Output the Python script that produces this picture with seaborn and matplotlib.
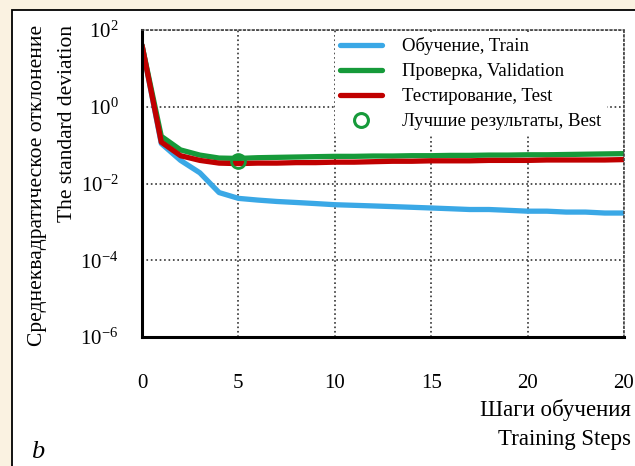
import pandas as pd
import seaborn as sns
import matplotlib.pyplot as plt
import matplotlib.patches as mpatches
from matplotlib.lines import Line2D

# data
steps = list(range(26))
train = [40, 0.11, 0.040, 0.019, 0.0058, 0.0041, 0.0037, 0.0034, 0.0032, 0.0030,
         0.0028, 0.0027, 0.0026, 0.0025, 0.0024, 0.0023, 0.0022, 0.0021, 0.0021, 0.0020,
         0.0019, 0.0019, 0.0018, 0.0018, 0.0017, 0.0017]
validation = [40, 0.17, 0.075, 0.055, 0.046, 0.045, 0.047, 0.048, 0.049, 0.050,
              0.051, 0.051, 0.052, 0.052, 0.053, 0.053, 0.054, 0.054, 0.055, 0.055,
              0.056, 0.056, 0.057, 0.058, 0.059, 0.060]
test = [40, 0.12, 0.053, 0.040, 0.034, 0.033, 0.034, 0.034, 0.035, 0.035,
        0.036, 0.036, 0.037, 0.038, 0.038, 0.039, 0.039, 0.039, 0.040, 0.040,
        0.040, 0.041, 0.041, 0.041, 0.041, 0.042]
best_step = [5]
best_value = [0.038]

series_names = ['Обучение, Train', 'Проверка, Validation', 'Тестирование, Test']
best_name = 'Лучшие результаты, Best'
x_ticks = [0, 5, 10, 15, 20, 25]
x_tick_labels = ['0', '5', '10', '15', '20', '20']
y_ticks = [1e2, 1e0, 1e-2, 1e-4, 1e-6]
y_tick_labels = ['10$^{2}$', '10$^{0}$', '10$^{-2}$', '10$^{-4}$', '10$^{-6}$']

df = pd.DataFrame({
    'step': steps * 3,
    'value': train + validation + test,
    'series': [series_names[0]] * 26 + [series_names[1]] * 26 + [series_names[2]] * 26,
})

sns.set_style('white')
plt.rcParams['font.family'] = ['Liberation Serif', 'DejaVu Serif']
plt.rcParams['mathtext.fontset'] = 'custom'
plt.rcParams['mathtext.rm'] = 'Liberation Serif'
plt.rcParams['mathtext.it'] = 'Liberation Serif:italic'
plt.rcParams['text.color'] = 'black'
plt.rcParams['xtick.color'] = 'black'
plt.rcParams['ytick.color'] = 'black'

fig = plt.figure(figsize=(6.35, 4.66), dpi=100, facecolor='#faf2e1')
panel = mpatches.Rectangle((12 / 635, -0.1), 1.2, (466 - 10) / 466 + 0.1,
                           transform=fig.transFigure, facecolor='white',
                           edgecolor='black', lw=1.3, zorder=-1)
fig.add_artist(panel)

ax = fig.add_axes([142 / 635, 1 - 337 / 466, 482 / 635, 307 / 466])
ax.set_facecolor('white')

palette = {series_names[0]: '#3aa8e6', series_names[1]: '#169a3a', series_names[2]: '#c00000'}
sns.lineplot(data=df, x='step', y='value', hue='series', palette=palette,
             linewidth=3.8, ax=ax, legend=False)
ax.plot(best_step, best_value, 'o', mfc='none', mec='#169a3a', mew=2, ms=10, zorder=5)

ax.set_yscale('log')
ax.set_xlim(0, 25)
ax.set_ylim(1e-6, 1e2)
ax.set_xticks(x_ticks, labels=x_tick_labels)
ax.set_yticks(y_ticks, labels=y_tick_labels)
ax.minorticks_off()
ax.tick_params(axis='x', length=0, pad=27, labelsize=15)
ax.tick_params(axis='y', length=0, pad=17, labelsize=15)
ax.set_xlabel('')
ax.set_ylabel('')
ax.grid(True, linestyle=':', color='#333333', linewidth=1.2)
ax.set_axisbelow(True)

for side in ['left', 'bottom']:
    ax.spines[side].set_color('black')
    ax.spines[side].set_linewidth(2.2)
for side in ['top', 'right']:
    ax.spines[side].set_color('#444444')
    ax.spines[side].set_linestyle(':')
    ax.spines[side].set_linewidth(1.2)

handles = [Line2D([], [], color=palette[n], lw=3.8) for n in series_names]
handles.append(Line2D([], [], marker='o', ls='none', mfc='none', mec='#169a3a', mew=2.2, ms=10))
leg = ax.legend(handles, series_names + [best_name], loc='upper left',
                bbox_to_anchor=(0.40, 0.995), fontsize=13.5, frameon=True,
                framealpha=1, facecolor='white', edgecolor='none',
                handlelength=2.2, handletextpad=1.1, labelspacing=0.42,
                borderpad=0.3, borderaxespad=0)

fig.text(38 / 635, 1 - 25 / 466, 'Среднеквадратическое отклонение', rotation=90,
         ha='center', va='top', fontsize=15.5)
fig.text(68 / 635, 1 - 25 / 466, 'The standard deviation', rotation=90,
         ha='center', va='top', fontsize=15.5)
fig.text(631 / 635, 1 - 410 / 466, 'Шаги обучения', ha='right', va='center', fontsize=16.5)
fig.text(631 / 635, 1 - 440 / 466, 'Training Steps', ha='right', va='center', fontsize=16.5)
fig.text(38 / 635, 1 - 452 / 466, 'b', style='italic', ha='center', va='center', fontsize=19)

fig.savefig('out.png', dpi=100, facecolor=fig.get_facecolor())
